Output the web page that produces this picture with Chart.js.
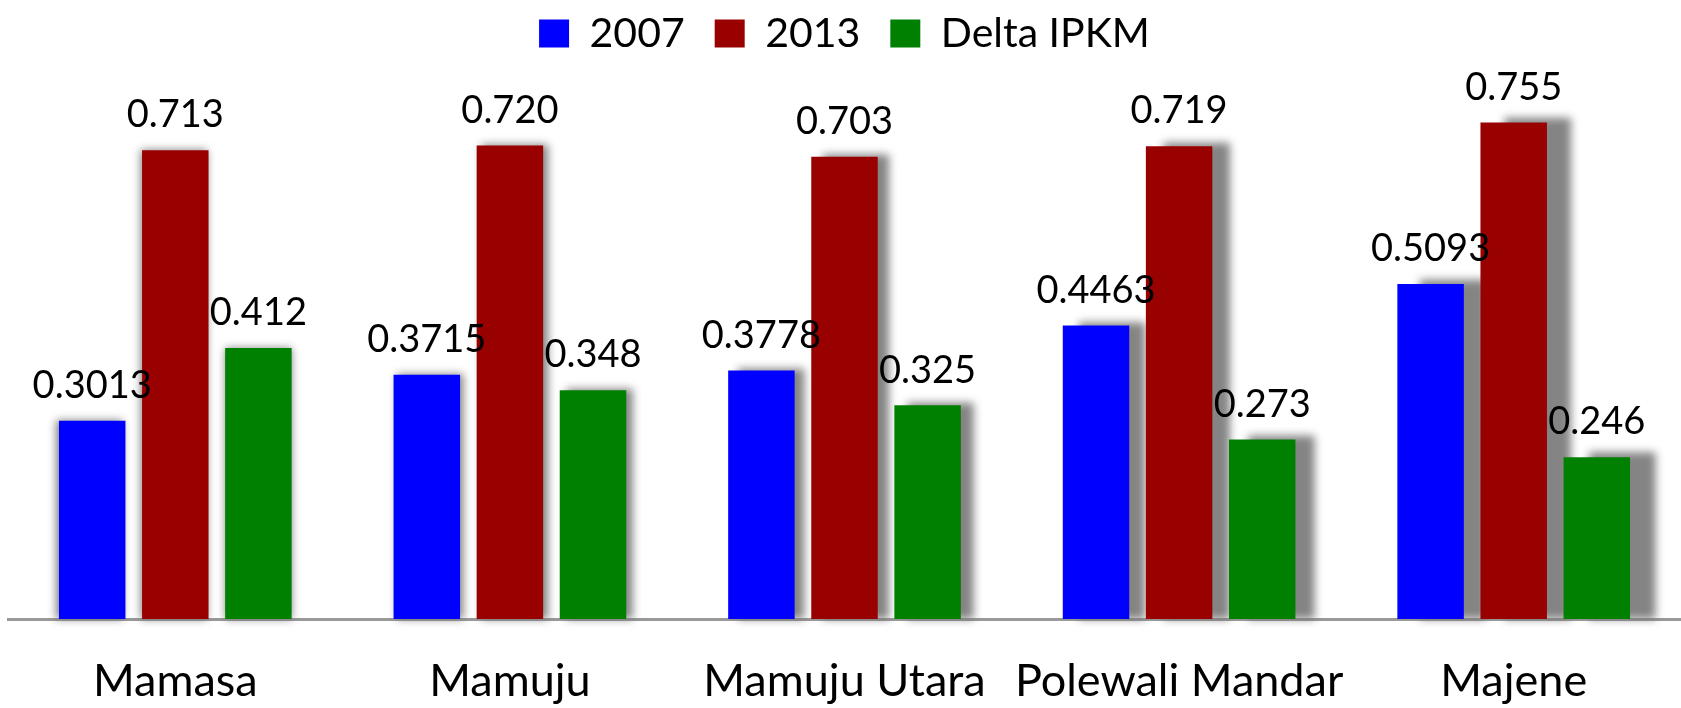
<!DOCTYPE html>
<html>
<head>
<meta charset="utf-8">
<script src="https://cdn.jsdelivr.net/npm/chart.js@4.4.1/dist/chart.umd.min.js"></script>
<style>
  html, body { margin: 0; padding: 0; background: #ffffff; }
  #wrap { width: 1681px; height: 708px; position: relative; }
</style>
</head>
<body>
<div id="wrap"><canvas id="chartIpkm"></canvas></div>
<script>
// Data
const CATEGORIES = ['Mamasa', 'Mamuju', 'Mamuju Utara', 'Polewali Mandar', 'Majene'];
const SERIES_NAMES = ['2007', '2013', 'Delta IPKM'];
const VALUES_2007 = [0.3013, 0.3715, 0.3778, 0.4463, 0.5093];
const VALUES_2013 = [0.713, 0.720, 0.703, 0.719, 0.755];
const VALUES_DELTA = [0.412, 0.348, 0.325, 0.273, 0.246];
const LABEL_DECIMALS = [4, 3, 3];

const SERIES_COLORS = ['#0000ff', '#990000', '#008000'];
const FONT_FAMILY = "Lato, 'Open Sans', sans-serif";

// gray perspective shadow behind each bar, offset grows to the right
const barShadows = {
    id: 'barShadows',
    beforeDatasetsDraw(chart) {
        const ctx = chart.ctx;
        ctx.save();
        ctx.filter = 'blur(4px)';
        ctx.fillStyle = 'rgba(110,110,110,0.85)';
        chart.data.datasets.forEach((ds, di) => {
            chart.getDatasetMeta(di).data.forEach(bar => {
                const p = bar.getProps(['x', 'y', 'base', 'width'], true);
                const dx = (p.x - 250) * 0.019;
                const dy = -Math.abs(dx) * 0.2;
                ctx.fillRect(p.x - p.width / 2 + dx, p.y + dy, p.width, p.base - p.y - dy);
            });
        });
        ctx.restore();
    },
};

// value labels above the bars
const valueLabels = {
    id: 'valueLabels',
    afterDatasetsDraw(chart) {
        const ctx = chart.ctx;
        ctx.save();
        ctx.font = `38px ${FONT_FAMILY}`;
        ctx.fillStyle = '#000000';
        ctx.textAlign = 'center';
        ctx.textBaseline = 'middle';
        chart.data.datasets.forEach((ds, di) => {
            chart.getDatasetMeta(di).data.forEach((bar, i) => {
                const p = bar.getProps(['x', 'y'], true);
                ctx.fillText(ds.data[i].toFixed(LABEL_DECIMALS[di]), p.x, p.y - 35);
            });
        });
        ctx.restore();
    },
};

const seriesValues = [VALUES_2007, VALUES_2013, VALUES_DELTA];
const datasets = SERIES_NAMES.map((name, i) => ({
    label: name,
    data: seriesValues[i],
    backgroundColor: SERIES_COLORS[i],
    borderWidth: 0,
    categoryPercentage: 0.745,
    barPercentage: 0.8,
}));

new Chart(document.getElementById('chartIpkm'), {
    type: 'bar',
    data: { labels: CATEGORIES, datasets },
    plugins: [barShadows, valueLabels],
    options: {
        responsive: true,
        maintainAspectRatio: false,
        animation: false,
        layout: { padding: { top: -17, left: 8, right: 0, bottom: -27 } },
        plugins: {
            legend: {
                display: true,
                position: 'top',
                labels: {
                    color: '#000000',
                    font: { family: FONT_FAMILY, size: 41 },
                    boxWidth: 30,
                    boxHeight: 28,
                    padding: 30,
                },
            },
            tooltip: { enabled: false },
        },
        scales: {
            x: {
                grid: { display: false },
                border: { display: true, color: '#999999', width: 3 },
                ticks: {
                    color: '#000000',
                    font: { family: FONT_FAMILY, size: 45 },
                    padding: 27,
                    minRotation: 0,
                    maxRotation: 0,
                    autoSkip: false,
                },
            },
            y: {
                display: false,
                min: 0,
                max: 0.844,
            },
        },
    },
});
</script>
</body>
</html>
